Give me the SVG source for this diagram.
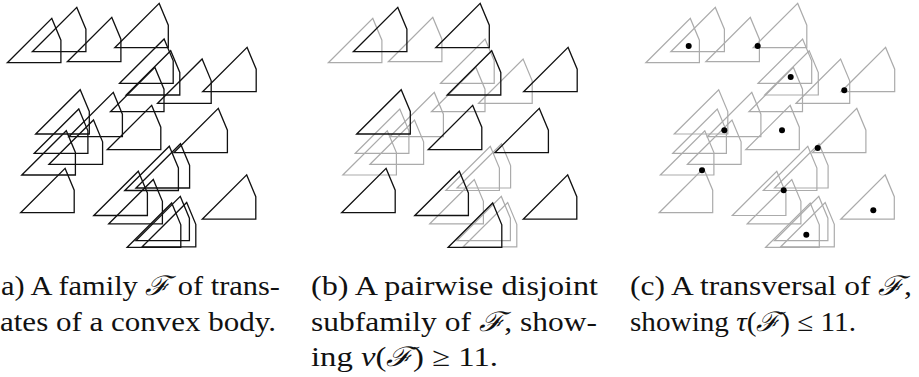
<svg xmlns="http://www.w3.org/2000/svg" xmlns:xlink="http://www.w3.org/1999/xlink" width="919" height="377" viewBox="0 0 919 377">
<style>
.k{fill:none;stroke:#111;stroke-width:1.3;stroke-linejoin:miter}
.g{fill:none;stroke:#ababab;stroke-width:1.2;stroke-linejoin:miter}
.d{fill:#000}
.cap{font-family:"Liberation Serif","DejaVu Serif",serif;font-size:27px;fill:#111}
.m{font-style:italic}
</style>
<defs>
<path id="s" d="M0,0 L44.5,-44.3 L53.6,-22.5 L53.6,0 Z"/>
</defs>
<g id="panel-a" transform="translate(-321,0)">
<use id="a1" href="#s" x="328.3" y="62.7" class="k"/>
<use id="a2" href="#s" x="353.3" y="51.7" class="k"/>
<use id="a3" href="#s" x="388.3" y="61.7" class="k"/>
<use id="a4" href="#s" x="435.7" y="47.7" class="k"/>
<use id="a5" href="#s" x="440.6" y="83.3" class="k"/>
<use id="a6" href="#s" x="447.2" y="95" class="k"/>
<use id="a7" href="#s" x="431.4" y="111.7" class="k"/>
<use id="a8" href="#s" x="478.6" y="103.3" class="k"/>
<use id="a9" href="#s" x="523.6" y="91.7" class="k"/>
<use id="a10" href="#s" x="356.7" y="134" class="k"/>
<use id="a11" href="#s" x="389.8" y="136.7" class="k"/>
<use id="a12" href="#s" x="355.3" y="153.3" class="k"/>
<use id="a13" href="#s" x="370" y="164.3" class="k"/>
<use id="a14" href="#s" x="342.8" y="175" class="k"/>
<use id="a15" href="#s" x="428.2" y="149.7" class="k"/>
<use id="a16" href="#s" x="494.8" y="152.7" class="k"/>
<use id="a17" href="#s" x="341.6" y="212.7" class="k"/>
<use id="a18" href="#s" x="445.8" y="190.5" class="k"/>
<use id="a19" href="#s" x="457" y="188" class="k"/>
<use id="a20" href="#s" x="414.8" y="215.5" class="k"/>
<use id="a21" href="#s" x="429.8" y="223.8" class="k"/>
<use id="a22" href="#s" x="523.2" y="219.2" class="k"/>
<use id="a23" href="#s" x="448.2" y="247.3" class="k"/>
<use id="a24" href="#s" x="456.8" y="240.7" class="k"/>
<use id="a25" href="#s" x="463.2" y="246.8" class="k"/>
</g>
<g id="panel-b">
<use id="b1" href="#s" x="328.3" y="62.7" class="g"/>
<use id="b3" href="#s" x="388.3" y="61.7" class="g"/>
<use id="b5" href="#s" x="440.6" y="83.3" class="g"/>
<use id="b7" href="#s" x="431.4" y="111.7" class="g"/>
<use id="b8" href="#s" x="478.6" y="103.3" class="g"/>
<use id="b11" href="#s" x="389.8" y="136.7" class="g"/>
<use id="b12" href="#s" x="355.3" y="153.3" class="g"/>
<use id="b13" href="#s" x="370" y="164.3" class="g"/>
<use id="b14" href="#s" x="342.8" y="175" class="g"/>
<use id="b18" href="#s" x="445.8" y="190.5" class="g"/>
<use id="b19" href="#s" x="457" y="188" class="g"/>
<use id="b21" href="#s" x="429.8" y="223.8" class="g"/>
<use id="b24" href="#s" x="456.8" y="240.7" class="g"/>
<use id="b25" href="#s" x="463.2" y="246.8" class="g"/>
<use id="b2" href="#s" x="353.3" y="51.7" class="k"/>
<use id="b4" href="#s" x="435.7" y="47.7" class="k"/>
<use id="b6" href="#s" x="447.2" y="95" class="k"/>
<use id="b9" href="#s" x="523.6" y="91.7" class="k"/>
<use id="b10" href="#s" x="356.7" y="134" class="k"/>
<use id="b15" href="#s" x="428.2" y="149.7" class="k"/>
<use id="b16" href="#s" x="494.8" y="152.7" class="k"/>
<use id="b17" href="#s" x="341.6" y="212.7" class="k"/>
<use id="b20" href="#s" x="414.8" y="215.5" class="k"/>
<use id="b22" href="#s" x="523.2" y="219.2" class="k"/>
<use id="b23" href="#s" x="448.2" y="247.3" class="k"/>
</g>
<g id="panel-c">
<g transform="translate(317.5,0)">
<use id="c1" href="#s" x="328.3" y="62.7" class="g"/>
<use id="c2" href="#s" x="353.3" y="51.7" class="g"/>
<use id="c3" href="#s" x="388.3" y="61.7" class="g"/>
<use id="c4" href="#s" x="435.7" y="47.7" class="g"/>
<use id="c5" href="#s" x="440.6" y="83.3" class="g"/>
<use id="c6" href="#s" x="447.2" y="95" class="g"/>
<use id="c7" href="#s" x="431.4" y="111.7" class="g"/>
<use id="c8" href="#s" x="478.6" y="103.3" class="g"/>
<use id="c9" href="#s" x="523.6" y="91.7" class="g"/>
<use id="c10" href="#s" x="356.7" y="134" class="g"/>
<use id="c11" href="#s" x="389.8" y="136.7" class="g"/>
<use id="c12" href="#s" x="355.3" y="153.3" class="g"/>
<use id="c13" href="#s" x="370" y="164.3" class="g"/>
<use id="c14" href="#s" x="342.8" y="175" class="g"/>
<use id="c15" href="#s" x="428.2" y="149.7" class="g"/>
<use id="c16" href="#s" x="494.8" y="152.7" class="g"/>
<use id="c17" href="#s" x="341.6" y="212.7" class="g"/>
<use id="c18" href="#s" x="445.8" y="190.5" class="g"/>
<use id="c19" href="#s" x="457" y="188" class="g"/>
<use id="c20" href="#s" x="414.8" y="215.5" class="g"/>
<use id="c21" href="#s" x="429.8" y="223.8" class="g"/>
<use id="c22" href="#s" x="523.2" y="219.2" class="g"/>
<use id="c23" href="#s" x="448.2" y="247.3" class="g"/>
<use id="c24" href="#s" x="456.8" y="240.7" class="g"/>
<use id="c25" href="#s" x="463.2" y="246.8" class="g"/>
</g>
<g id="dots">
<circle class="d" cx="688.7" cy="46" r="3"/>
<circle class="d" cx="757.7" cy="46" r="3"/>
<circle class="d" cx="790.7" cy="77" r="3"/>
<circle class="d" cx="844.3" cy="90.3" r="3"/>
<circle class="d" cx="724.3" cy="130.3" r="3"/>
<circle class="d" cx="782" cy="130.3" r="3"/>
<circle class="d" cx="817.7" cy="148" r="3"/>
<circle class="d" cx="702" cy="170.3" r="3"/>
<circle class="d" cx="783.7" cy="190.3" r="3"/>
<circle class="d" cx="873.3" cy="210.3" r="3"/>
<circle class="d" cx="806.3" cy="234.7" r="3"/>
</g>
</g>
<g id="captions" class="cap">
<text x="1" y="295" textLength="279" lengthAdjust="spacingAndGlyphs">a) A family <tspan class="m">ℱ</tspan> of trans-</text>
<text x="0" y="330.5" textLength="276" lengthAdjust="spacingAndGlyphs">ates of a convex body.</text>
<text x="311" y="295" textLength="287" lengthAdjust="spacingAndGlyphs">(b) A pairwise disjoint</text>
<text x="311" y="330.5" textLength="286" lengthAdjust="spacingAndGlyphs">subfamily of <tspan class="m">ℱ</tspan>, show-</text>
<text x="311" y="366" textLength="187" lengthAdjust="spacingAndGlyphs">ing <tspan class="m">ν</tspan>(<tspan class="m">ℱ</tspan>) ≥ 11.</text>
<text x="630" y="295" textLength="282" lengthAdjust="spacingAndGlyphs">(c) A transversal of <tspan class="m">ℱ</tspan>,</text>
<text x="630" y="330.5" textLength="226" lengthAdjust="spacingAndGlyphs">showing <tspan class="m">τ</tspan>(<tspan class="m">ℱ</tspan>) ≤ 11.</text>
</g>
</svg>
